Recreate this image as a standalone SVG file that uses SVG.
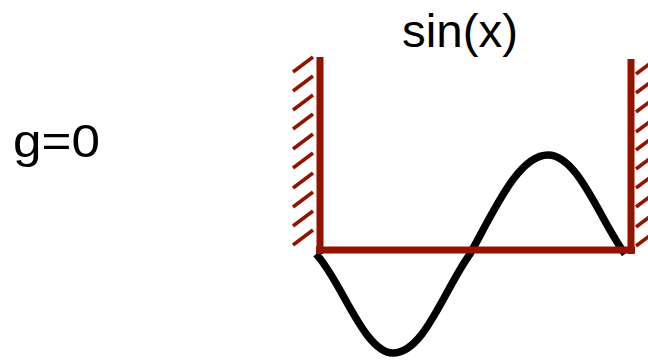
<svg xmlns="http://www.w3.org/2000/svg" width="648" height="360" viewBox="0 0 648 360">
<style>
.lbl{font-family:"Liberation Sans",Arial,sans-serif;font-size:47px;fill:#000}
.wall{stroke:#931300;stroke-width:7;fill:none;stroke-linecap:butt}
.hatch{stroke:#931300;stroke-width:3.5;fill:none}
.curve{stroke:#000;stroke-width:7.5;fill:none;stroke-linecap:butt}
</style>
<rect width="648" height="360" fill="#fff"/>
<g id="label-g"><text class="lbl" x="13" y="157" textLength="87" lengthAdjust="spacingAndGlyphs">g=0</text></g>
<g id="label-sin"><text class="lbl" x="402" y="47" textLength="116" lengthAdjust="spacingAndGlyphs">sin(x)</text></g>
<g id="curve"><path class="curve" d="M316,254 C341,280 364,353 393,353 C424,353 444,290 470,254 C496,207 519,155 548,155 C578,155 600,220 625,254"/></g>
<g id="left-wall">
<line class="wall" x1="320" y1="57" x2="320" y2="254"/>
<g class="hatch">
<line x1="293" y1="72" x2="313" y2="57"/>
<line x1="293" y1="91" x2="313" y2="76"/>
<line x1="293" y1="110" x2="313" y2="95"/>
<line x1="293" y1="129" x2="313" y2="114"/>
<line x1="293" y1="149" x2="313" y2="134"/>
<line x1="293" y1="168" x2="313" y2="153"/>
<line x1="293" y1="188" x2="313" y2="173"/>
<line x1="293" y1="207" x2="313" y2="192"/>
<line x1="293" y1="226" x2="313" y2="211"/>
<line x1="293" y1="245" x2="313" y2="230"/>
</g>
</g>
<g id="right-wall">
<line class="wall" x1="631" y1="59" x2="631" y2="254"/>
<g class="hatch">
<line x1="636" y1="74" x2="656" y2="59"/>
<line x1="636" y1="93" x2="656" y2="78"/>
<line x1="636" y1="112" x2="656" y2="97"/>
<line x1="636" y1="132" x2="656" y2="117"/>
<line x1="636" y1="150" x2="656" y2="135"/>
<line x1="636" y1="169" x2="656" y2="154"/>
<line x1="636" y1="188" x2="656" y2="173"/>
<line x1="636" y1="207" x2="656" y2="192"/>
<line x1="636" y1="227" x2="656" y2="212"/>
<line x1="636" y1="246" x2="656" y2="231"/>
</g>
</g>
<g id="floor"><line class="wall" x1="316" y1="250" x2="635" y2="250"/></g>
</svg>
